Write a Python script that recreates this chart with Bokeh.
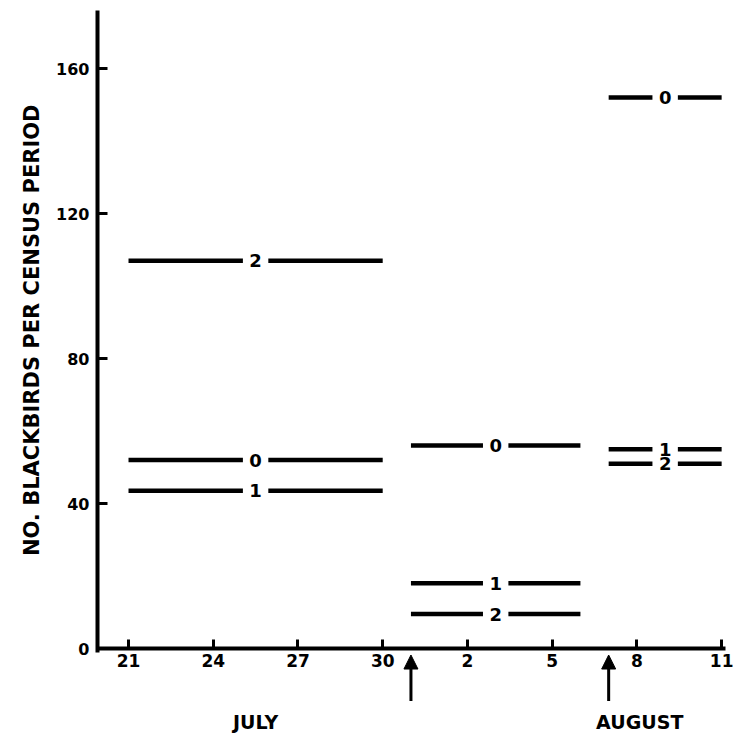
import numpy as np
from bokeh.plotting import figure
from bokeh.models import Range1d, FixedTicker, Arrow, NormalHead, Title
from bokeh.core.properties import value
from bokeh.embed import file_html
from bokeh.resources import INLINE

# ---- data (day 0 = July 21) ----
tick_days = [0, 3, 6, 9, 12, 15, 18, 21]
tick_labels = ["21", "24", "27", "30", "2", "5", "8", "11"]
period_start = [0, 10, 17]
period_end = [9, 16, 21]
birds_0 = [52, 56, 152]
birds_1 = [43.5, 18, 55]
birds_2 = [107, 9.5, 51]
arrow_days = [10, 17]
month_names = ["JULY", "AUGUST"]
month_pos = [4.5, 18.1]
y_title = "NO. BLACKBIRDS PER CENSUS PERIOD"

FONT = "DejaVu Sans"

p = figure(width=733, height=745, output_backend="svg", toolbar_location=None,
           x_range=Range1d(-1.098, 21.42), y_range=Range1d(-24.55, 176),
           min_border_left=97, min_border_right=0, min_border_top=10, min_border_bottom=8)
p.grid.visible = False
p.outline_line_color = None
p.background_fill_color = "white"
p.border_fill_color = "white"

# x axis
xa = p.xaxis[0]
xa.fixed_location = 0
xa.bounds = (-1.098, 21.14)
xa.ticker = FixedTicker(ticks=tick_days)
xa.major_label_overrides = {d: l for d, l in zip(tick_days, tick_labels)}
xa.axis_line_width = 4
xa.axis_line_color = "black"
xa.major_tick_in = 9
xa.major_tick_out = 0
xa.major_tick_line_width = 3
xa.minor_tick_line_color = None
xa.major_label_text_font = FONT
xa.major_label_text_font_style = "bold"
xa.major_label_text_font_size = "17px"
xa.major_label_text_color = "black"
xa.major_label_standoff = 5

# y axis
ya = p.yaxis[0]
ya.ticker = FixedTicker(ticks=[0, 40, 80, 120, 160])
ya.bounds = (-1, 176)
ya.axis_line_width = 4
ya.axis_line_color = "black"
ya.major_tick_in = 10
ya.major_tick_out = 0
ya.major_tick_line_width = 3
ya.minor_tick_line_color = None
ya.major_label_text_font = FONT
ya.major_label_text_font_style = "bold"
ya.major_label_text_font_size = "16px"
ya.major_label_text_color = "black"
ya.major_label_standoff = 8

# y-axis title as a left-side title, placed to match the reference's extent
p.add_layout(Title(text=y_title, align="right", offset=94, vertical_align="middle",
                   standoff=18, text_font=FONT, text_font_style="bold",
                   text_font_size="21px", text_color="black"), "left")

# segments with a gap for the label
gap = 0.45
starts = np.array(period_start, dtype=float)
ends = np.array(period_end, dtype=float)
mids = (starts + ends) / 2
for lab, vals in (("0", birds_0), ("1", birds_1), ("2", birds_2)):
    vals = np.array(vals, dtype=float)
    x0 = np.concatenate([starts, mids + gap])
    x1 = np.concatenate([mids - gap, ends])
    yy = np.concatenate([vals, vals])
    p.segment(x0=x0, y0=yy, x1=x1, y1=yy, line_color="black", line_width=4.5)
    p.text(x=mids, y=vals, text=[lab] * len(vals), text_align="center",
           text_baseline="middle", text_font=value(FONT), text_font_style="bold",
           text_font_size="18px", text_color="black")

# arrows marking changes
for d in arrow_days:
    p.add_layout(Arrow(end=NormalHead(size=14, fill_color="black", line_color="black"),
                       x_start=d, y_start=-14.5, x_end=d, y_end=-1.8,
                       line_width=3, line_color="black"))

# month labels
p.text(x=month_pos, y=[-20.4] * len(month_pos), text=month_names, text_align="center",
       text_baseline="middle", text_font=value(FONT), text_font_style="bold",
       text_font_size="19px", text_color="black")

open("out.html", "w").write(file_html(p, INLINE))
